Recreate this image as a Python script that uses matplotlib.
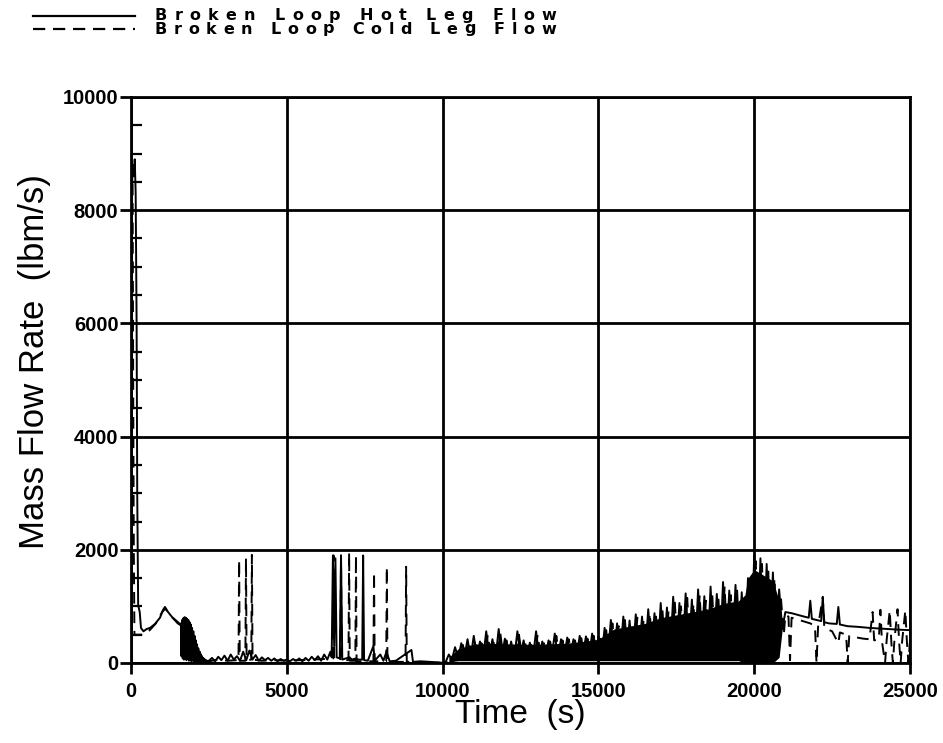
import numpy as np
import matplotlib
matplotlib.use("Agg")
import matplotlib.pyplot as plt
from matplotlib.lines import Line2D

# ---- data (time in s, flow in lbm/s) ----
# broken loop hot leg, 0 - 1600 s (blowdown spike and first bump)
hot_t_start = [0, 30, 60, 90, 120, 150, 180, 200, 230, 280, 320, 400, 500, 610, 770, 930,
               1030, 1090, 1190, 1320, 1510, 1580]
hot_v_start = [0, 8400, 8800, 8600, 8900, 8300, 6000, 3000, 1020, 900, 620, 560, 600, 620, 690, 800,
               940, 990, 900, 810, 720, 680]
# 1600 - 2400 s, every 20 s
hot_t_blob = np.arange(1600, 2401, 20)
hot_v_blob = [700, 120, 760, 80, 790, 60, 810, 90, 800, 50,
              780, 70, 760, 40, 720, 60, 680, 30, 620, 50,
              560, 30, 480, 40, 400, 20, 330, 30, 260, 20,
              200, 30, 150, 20, 120, 30, 90, 20, 70, 30, 50]
# 2450 - 10000 s
hot_t_mid = [2450, 2500, 2600, 2700, 2800, 2900, 3000, 3100, 3200, 3300,
             3400, 3500, 3600, 3700, 3800, 3900, 4000, 4100, 4200, 4300, 4400, 4500,
             4600, 4700, 4800, 4900, 5000, 5100, 5200, 5300, 5400, 5500, 5600, 5700,
             5800, 5900, 6000, 6100, 6200, 6300, 6400, 6440, 6480, 6520, 6560, 6600,
             6700, 6740, 6780, 7000, 7100, 7200, 7300, 7420, 7450, 7480, 7600, 7780,
             7820, 8000, 8100, 8200, 8300, 8500, 9000, 9050, 9300, 9600, 9900, 10000]
hot_v_mid = [30, 40, 90, 30, 110, 50, 130, 40, 150, 60,
             120, 40, 200, 50, 220, 60, 140, 40, 100, 50, 90, 40,
             80, 30, 70, 40, 60, 30, 70, 40, 80, 30, 90, 40,
             110, 50, 120, 40, 150, 60, 200, 100, 1900, 300, 1850, 100,
             80, 1900, 60, 100, 60, 80, 60, 60, 1900, 50, 40, 300,
             40, 150, 40, 200, 30, 40, 230, 20, 30, 20, 10, 0]

# broken loop cold leg, 0 - 10000 s
cold_t_early = [0, 20, 50, 70, 90, 110, 400, 600, 800, 1000, 1100, 1300, 1500, 1650,
                1700, 1750, 1800, 1850, 1900, 1950, 2000, 2050, 2100, 2200, 2300, 2500,
                2800, 3100, 3400, 3450, 3470, 3490, 3670, 3690, 3710, 3860, 3880, 3900,
                4200, 4600, 5000, 5400, 5800, 6200, 6480, 6500, 6520, 6720, 6740, 6760,
                6980, 7000, 7020, 7200, 7220, 7240, 7780, 7800, 7820, 8190, 8210, 8230,
                8810, 8830, 8850, 9200, 9600, 10000]
cold_v_early = [0, 8500, 8700, 5000, 2000, 500, 500, 580, 700, 900, 960, 820, 700, 650,
                100, 700, 80, 650, 60, 600, 40, 450, 30, 200, 60, 30,
                60, 40, 50, 40, 1820, 40, 40, 1850, 50, 60, 1910, 60,
                40, 50, 40, 50, 60, 70, 80, 1900, 60, 50, 1900, 50,
                50, 1950, 40, 40, 1900, 30, 30, 1610, 30, 30, 1700, 20,
                20, 1700, 20, 20, 10, 0]

# 10100 - 20900 s, sampled every 100 s (oscillating two-phase flow)
hot_t_dense = np.arange(10100, 21000, 100)
hot_v_dense = [20, 150, 60, 280, 80, 350, 100, 420, 90, 480,
               110, 380, 80, 560, 120, 420, 90, 600, 110, 430,
               100, 380, 80, 560, 130, 400, 90, 360, 100, 560,
               120, 380, 90, 400, 110, 520, 100, 420, 90, 450,
               120, 420, 100, 480, 130, 470, 110, 520, 100, 460,
               90, 620, 110, 760, 140, 700, 120, 820, 110, 750,
               130, 860, 100, 820, 140, 950, 120, 880, 110, 1060,
               150, 980, 120, 1170, 140, 1060, 110, 1230, 160, 1120,
               130, 1300, 150, 1180, 120, 1350, 170, 1220, 130, 1430,
               150, 1280, 120, 1380, 100, 1250, 30, 1500, 60, 1900,
               80, 1850, 40, 1750, 90, 1600, 150, 1300, 600]
cold_t_dense = np.arange(10150, 21000, 100)
cold_v_dense = [10, 120, 40, 250, 60, 320, 80, 380, 70, 420,
                90, 350, 60, 500, 100, 380, 70, 540, 90, 400,
                80, 350, 60, 500, 110, 360, 70, 340, 80, 500,
                100, 350, 70, 380, 90, 480, 80, 400, 70, 420,
                100, 400, 80, 440, 110, 430, 90, 480, 80, 430,
                70, 580, 90, 700, 120, 650, 100, 760, 90, 700,
                110, 800, 80, 760, 120, 880, 100, 820, 90, 980,
                130, 920, 100, 1100, 120, 1000, 90, 1150, 140, 1050,
                110, 1200, 130, 1100, 100, 1250, 150, 1150, 110, 1350,
                130, 1200, 100, 1300, 80, 1150, 0, 1400, 40, 1800,
                60, 1750, 20, 1650, 70, 1500, 130, 1200, 500]
# band covered solid black by the fast oscillations
band_t = [10200, 10500, 11000, 11500, 12000, 12500, 13000, 13500, 14000, 14500, 15000, 15500,
          16000, 16500, 17000, 17500, 18000, 18500, 19000, 19500, 19700, 19800, 20000, 20300,
          20600, 20800, 20900]
band_lo = [20, 40, 40, 40, 40, 40, 40, 40, 40, 40, 40, 40,
           40, 40, 40, 40, 40, 40, 40, 40, 0, 0, 0, 0,
           0, 100, 600]
band_hi = [100, 250, 330, 350, 340, 330, 330, 340, 350, 380, 420, 600,
           650, 700, 800, 850, 900, 950, 1050, 1100, 1200, 1500, 1650, 1550,
           1450, 1100, 700]

# 21000 - 25000 s
hot_t_late = [21000, 21200, 21400, 21600, 21750, 21800, 21850, 22000, 22150, 22200, 22250,
              22400, 22650, 22700, 22750, 23000, 23300, 23500, 23700, 24000, 24300, 24600, 25000]
hot_v_late = [900, 880, 850, 820, 800, 1100, 780, 760, 740, 1150, 720,
              700, 690, 990, 680, 650, 640, 630, 620, 610, 600, 590, 580]
cold_t_late = [21000, 21100, 21150, 21200, 21500, 21800, 21950, 22000, 22050, 22200, 22250,
               22500, 22700, 22750, 22950, 23000, 23050, 23300, 23500, 23700, 23800, 23850,
               24000, 24050, 24100, 24200, 24250, 24350, 24400, 24450, 24500, 24600, 24650,
               24700, 24750, 24850, 24900, 24950, 25000]
cold_v_late = [850, 820, 50, 800, 750, 700, 650, 0, 640, 1170, 620,
               560, 350, 540, 500, 0, 480, 450, 430, 420, 900, 400,
               420, 940, 380, 0, 400, 930, 380, 0, 400, 950, 380,
               0, 400, 930, 380, 0, 400]

hot_t = np.concatenate([hot_t_start, hot_t_blob, hot_t_mid, hot_t_dense, hot_t_late])
hot_v = np.concatenate([hot_v_start, hot_v_blob, hot_v_mid, hot_v_dense, hot_v_late])
cold_t = np.concatenate([cold_t_early, cold_t_dense, cold_t_late])
cold_v = np.concatenate([cold_v_early, cold_v_dense, cold_v_late])

legend_labels = ["Broken Loop Hot Leg Flow", "Broken Loop Cold Leg Flow"]

tick_font = ["Liberation Sans", "DejaVu Sans"]
dash = (0, (6, 4))

fig = plt.figure(figsize=(9.43, 7.43), dpi=100)
W, H = 943, 743
ax = fig.add_axes([131 / W, 1 - 663 / H, 779 / W, 566 / H])

ax.fill_between(band_t, band_lo, band_hi, color="black", lw=0)
ax.plot(hot_t, hot_v, color="black", lw=1.4)
ax.plot(cold_t, cold_v, color="black", lw=1.4, linestyle=dash)

ax.set_xlim(0, 25000)
ax.set_ylim(0, 10000)
ax.set_xticks(np.arange(0, 25001, 5000))
ax.set_yticks(np.arange(0, 10001, 2000))
ax.set_yticks(np.arange(0, 10001, 500), minor=True)
ax.grid(True, which="major", color="black", lw=2)
for s in ax.spines.values():
    s.set_linewidth(2)

ax.tick_params(axis="both", which="major", direction="out", length=8, width=2, color="black")
ax.tick_params(axis="y", which="minor", direction="in", length=8, width=1.6)
ax.tick_params(axis="y", which="major", pad=1)
ax.tick_params(axis="x", which="major", pad=6)
for lab in ax.get_xticklabels() + ax.get_yticklabels():
    lab.set_family(tick_font)
    lab.set_fontweight("bold")
    lab.set_fontsize(14.5)

ax.set_xlabel("Time  (s)", family=tick_font, fontsize=24, labelpad=-2)
ax.set_ylabel("Mass Flow Rate  (lbm/s)", family=tick_font, fontsize=25)
ax.yaxis.set_label_coords(-80 / 779, (663 - 362) / 566)

# legend drawn at the top-left like the original plotter output
fig.add_artist(Line2D([33 / W, 135 / W], [1 - 16 / H, 1 - 16 / H], color="black", lw=1.6))
fig.add_artist(Line2D([33 / W, 135 / W], [1 - 29 / H, 1 - 29 / H], color="black", lw=1.6,
                      linestyle=(0, (5.5, 3.5))))

renderer = fig.canvas.get_renderer()
x0, x1 = 155, 556
for row, label in enumerate(legend_labels):
    y = 1 - (15.5 + 13.5 * row) / H
    chars = []
    for ch in label:
        t = fig.text(0, y, ch, fontsize=11.5, fontweight="bold", family="DejaVu Sans",
                     ha="left", va="center")
        chars.append((t, t.get_window_extent(renderer).width if ch != " " else 5.0))
    total = sum(w for _, w in chars)
    track = (x1 - x0 - total) / (len(chars) - 1)
    x = x0
    for t, w in chars:
        t.set_x(x / W)
        x += w + track

fig.savefig("out.png", dpi=100)
